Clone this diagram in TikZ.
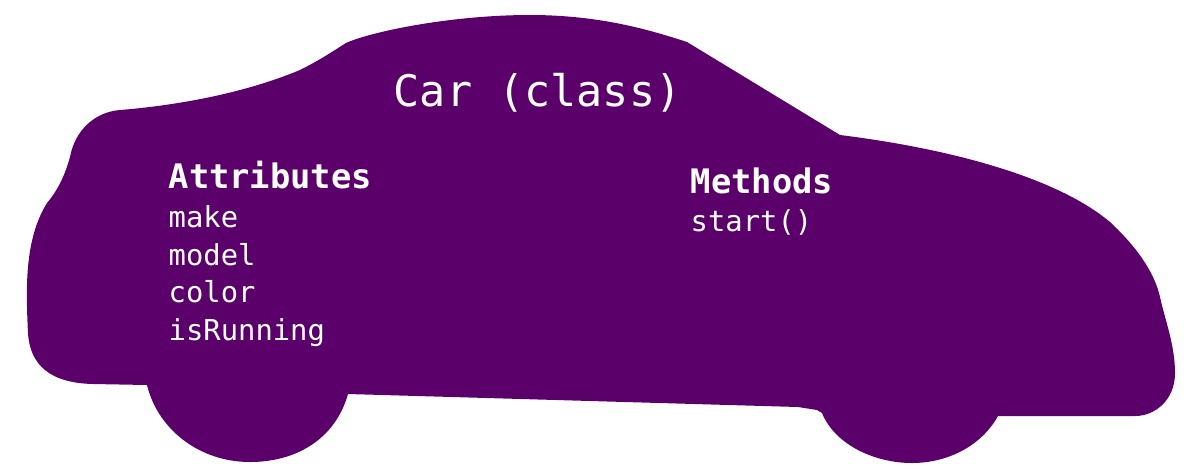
\documentclass[tikz,border=0pt]{standalone}
\usepackage{fontspec}
\setmonofont{DejaVu Sans Mono}
\definecolor{carpurple}{RGB}{91,0,107}
\tikzset{
  lbl/.style={anchor=base west, inner sep=0pt, text=white, font=\ttfamily\fontsize{8.2pt}{9pt}\selectfont},
  hdr/.style={anchor=base west, inner sep=0pt, text=white, font=\ttfamily\bfseries\fontsize{9.6pt}{11pt}\selectfont},
  ttl/.style={anchor=base west, inner sep=0pt, text=white, font=\ttfamily\fontsize{12.35pt}{14pt}\selectfont}
}
\begin{document}
\begin{tikzpicture}[x=0.01cm,y=-0.01cm]
\useasboundingbox (0,0) rectangle (1200,475);
\fill[carpurple]
 (120,110)
 .. controls (170,106) and (240,95) .. (300,70)
 .. controls (320,60) and (335,50) .. (346,43)
 .. controls (370,32) and (450,15) .. (530,15)
 .. controls (600,15) and (650,30) .. (687,42)
 -- (840,135)
 .. controls (960,150) and (1060,180) .. (1110,222)
 .. controls (1140,250) and (1155,275) .. (1160,297)
 .. controls (1165,320) and (1175,345) .. (1175,373)
 .. controls (1175,400) and (1155,416) .. (1135,416)
 -- (998,416)
 .. controls (980,448) and (945,463) .. (912,463)
 .. controls (875,463) and (835,445) .. (822,413)
 -- (817,410) -- (798,407) -- (348,394)
 .. controls (335,440) and (295,462) .. (250,462)
 .. controls (200,462) and (158,430) .. (147,385)
 -- (93,384)
 .. controls (50,383) and (30,365) .. (28,333)
 .. controls (26,290) and (24,240) .. (47,203)
 .. controls (58,190) and (65,175) .. (70,157)
 .. controls (75,130) and (95,112) .. (120,110) -- cycle;
\node[ttl] (title) at (393,106) {Car (class)};
\node[hdr] (attrhead) at (168,188) {Attributes};
\node[lbl] (a1) at (168,227) {make};
\node[lbl] (a2) at (168,265) {model};
\node[lbl] (a3) at (168,302) {color};
\node[lbl] (a4) at (168,340) {isRunning};
\node[hdr] (methhead) at (690,193) {Methods};
\node[lbl] (m1) at (690,231) {start()};
\end{tikzpicture}
\end{document}
